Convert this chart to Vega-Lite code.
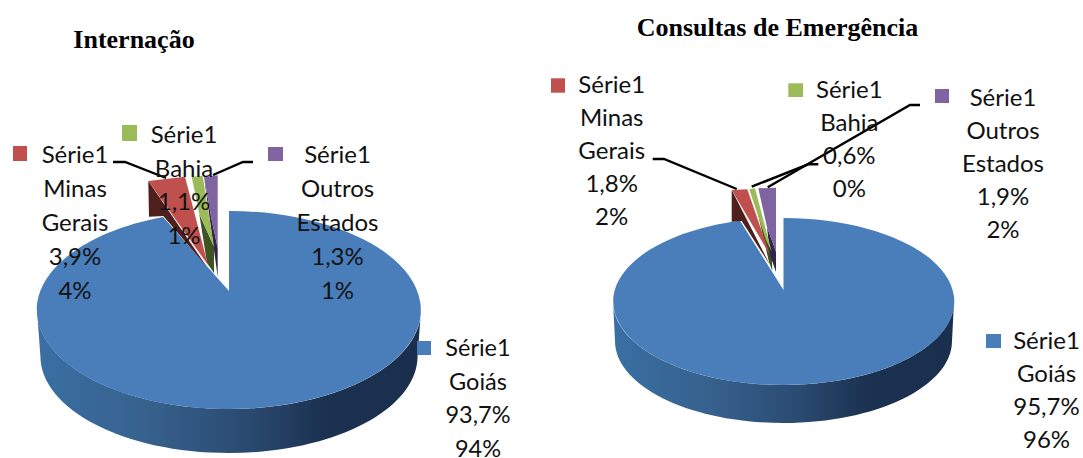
{
"$schema":"https://vega.github.io/schema/vega-lite/v6.json",
"width":1083,"height":458,"autosize":"none","padding":0,"background":"white",
"config":{"view":{"stroke":null}},
"data":{"values":[
{"id":"i_goias","grafico":"Internação","categoria":"Goiás","valor":93.7,"rotulo":"Série1\nGoiás\n93,7%\n94%"},
{"id":"i_minas","grafico":"Internação","categoria":"Minas Gerais","valor":3.9,"rotulo":"Série1\nMinas\nGerais\n3,9%\n4%"},
{"id":"i_bahia","grafico":"Internação","categoria":"Bahia","valor":1.1,"rotulo":"Série1\nBahia\n1,1%\n1%"},
{"id":"i_outros","grafico":"Internação","categoria":"Outros Estados","valor":1.3,"rotulo":"Série1\nOutros\nEstados\n1,3%\n1%"},
{"id":"c_goias","grafico":"Consultas de Emergência","categoria":"Goiás","valor":95.7,"rotulo":"Série1\nGoiás\n95,7%\n96%"},
{"id":"c_minas","grafico":"Consultas de Emergência","categoria":"Minas Gerais","valor":1.8,"rotulo":"Série1\nMinas\nGerais\n1,8%\n2%"},
{"id":"c_bahia","grafico":"Consultas de Emergência","categoria":"Bahia","valor":0.6,"rotulo":"Série1\nBahia\n0,6%\n0%"},
{"id":"c_outros","grafico":"Consultas de Emergência","categoria":"Outros Estados","valor":1.9,"rotulo":"Série1\nOutros\nEstados\n1,9%\n2%"}
]},
"encoding":{
"x":{"field":"grafico","type":"nominal","axis":null,"scale":{"type":"point","padding":0,"domain":["Internação","Consultas de Emergência"],"range":[229,783.5]}},
"y":{"field":"grafico","type":"nominal","axis":null,"scale":{"type":"point","padding":0,"domain":["Internação","Consultas de Emergência"],"range":[310,301.5]}}
},
"resolve":{"scale":{"shape":"independent","color":"independent"}},
"layer":[
{"transform":[{"filter":"datum.categoria==='Goiás'"}],
 "mark":{"type":"point","filled":true,"size":4,"opacity":1,"color":{"gradient":"linear","x1":0,"y1":0,"x2":1,"y2":0,"stops":[{"offset":0,"color":"#3a6fa3"},{"offset":0.3,"color":"#36608c"},{"offset":0.55,"color":"#2a4a70"},{"offset":0.75,"color":"#1b3150"},{"offset":1,"color":"#1a2f4d"}]}},
 "encoding":{"shape":{"field":"id","legend":null,"scale":{"domain":["i_goias","c_goias"],"range":[
  "M-192,0 A192,99 0 0 0 192,0 L188.6,46 A188.6,97 0 0 1 -188.6,46 Z",
  "M-170.5,0 A170.5,83.5 0 0 0 170.5,0 L168.5,39.5 A168.5,82 0 0 1 -168.5,39.5 Z"]}}}},
{"transform":[{"filter":"datum.categoria==='Goiás'"}],
 "mark":{"type":"point","filled":true,"size":4,"opacity":1,"color":"#4a7ebb"},
 "encoding":{"shape":{"field":"id","legend":null,"scale":{"domain":["i_goias","c_goias"],"range":[
  "M0,-19 L0,-99 A192,99 0 1 1 -66,-93 Z",
  "M0,-11.5 L0,-83.5 A170.5,83.5 0 1 1 -43.5,-80.7 Z"]}}}},
{"transform":[{"filter":"datum.categoria!=='Goiás'"}],
 "mark":{"type":"point","filled":true,"size":4,"opacity":1},
 "encoding":{
  "shape":{"field":"id","legend":null,"scale":{"domain":["i_minas","i_bahia","i_outros","c_minas","c_bahia","c_outros"],"range":[
   "M-80.7,-129 L-80,-93.3 L-65.7,-94 L-22,-43 Z",
   "M-29.7,-96 L-15,-63.3 L-15,-37 L-22,-47 Z",
   "M-25,-133.3 L-17.3,-90 L-11.3,-62 L-11.3,-33 Z",
   "M-51.8,-111.5 L-51.8,-79.8 L-41.8,-80.5 L-13.5,-36.5 Z",
   "M-26.5,-91.5 L-11.8,-49.8 L-11.2,-30.5 L-14.5,-39.5 Z",
   "M-16.5,-74.5 L-7.5,-49.8 L-7.5,-29.5 L-13.5,-46.5 Z"]}},
  "color":{"field":"categoria","type":"nominal","legend":null,"scale":{"domain":["Minas Gerais","Bahia","Outros Estados"],"range":["#4f1f1c","#3d5322","#33254a"]}}}},
{"transform":[{"filter":"datum.categoria!=='Goiás'"}],
 "mark":{"type":"point","filled":true,"size":4,"opacity":1},
 "encoding":{
  "shape":{"field":"id","legend":null,"scale":{"domain":["i_minas","i_bahia","i_outros","c_minas","c_bahia","c_outros"],"range":[
   "M-80.7,-129 L-44,-133.3 L-21,-45 Z",
   "M-37.3,-133.3 L-26.3,-134 L-15,-63.3 L-29.7,-96 Z",
   "M-25,-133.3 L-11.3,-134.7 L-11.3,-62 L-17.3,-90 Z",
   "M-51.8,-111.5 L-36.2,-112.2 L-13.5,-46.5 Z",
   "M-34.2,-112.2 L-28.5,-113.2 L-11.8,-49.8 L-17.5,-61.5 Z",
   "M-25.2,-113.2 L-7.5,-113.8 L-7.5,-49.8 L-16.5,-74.5 Z"]}},
  "color":{"field":"categoria","type":"nominal","legend":null,"scale":{"domain":["Minas Gerais","Bahia","Outros Estados"],"range":["#c0504d","#9bbb59","#8064a2"]}}}},
{"transform":[{"filter":{"field":"id","oneOf":["i_minas","i_outros","c_minas","c_bahia","c_outros"]}}],
 "mark":{"type":"point","filled":false,"size":4,"opacity":1,"stroke":"#000","strokeWidth":2.4},
 "encoding":{"shape":{"field":"id","legend":null,"scale":{"domain":["i_minas","i_outros","c_minas","c_bahia","c_outros"],"range":[
  "M-116,-148 L-104,-148 L-63,-132",
  "M24,-148 L14,-148 L-16,-135",
  "M-130.8,-142.5 L-119.5,-142.5 L-46.8,-112.5",
  "M34.8,-137.2 L24.8,-137.2 L-31.8,-114.8",
  "M136.5,-196.5 L126.5,-196.5 L-15.8,-114.2"]}}}},
{"mark":{"type":"point","filled":true,"size":4,"opacity":1},
 "encoding":{
  "shape":{"field":"id","legend":null,"scale":{"domain":["i_goias","i_minas","i_bahia","i_outros","c_goias","c_minas","c_bahia","c_outros"],"range":[
   "M188,31 H202 V45 H188 Z",
   "M-216,-164 H-202 V-149 H-216 Z",
   "M-107,-185 H-92 V-169 H-107 Z",
   "M39,-163 H54 V-149 H39 Z",
   "M202.5,32.5 H217.5 V46.5 H202.5 Z",
   "M-232.5,-223.2 H-218.5 V-208.8 H-232.5 Z",
   "M4.8,-218.2 H19.5 V-204.5 H4.8 Z",
   "M151.5,-212.5 H165.5 V-198.5 H151.5 Z"]}},
  "color":{"field":"categoria","type":"nominal","legend":null,"scale":{"domain":["Goiás","Minas Gerais","Bahia","Outros Estados"],"range":["#4a7ebb","#c0504d","#9bbb59","#8064a2"]}}}},
{"transform":[{"filter":"datum.id==='i_goias'"}],"mark":{"type":"text","font":"Lato","fontSize":23.5,"lineBreak":"\n","lineHeight":33.5,"baseline":"top","align":"center","color":"#111","dx":249,"dy":27},"encoding":{"text":{"field":"rotulo"}}},
{"transform":[{"filter":"datum.id==='i_minas'"}],"mark":{"type":"text","font":"Lato","fontSize":24,"lineBreak":"\n","lineHeight":34,"baseline":"top","align":"center","color":"#111","dx":-154,"dy":-166},"encoding":{"text":{"field":"rotulo"}}},
{"transform":[{"filter":"datum.id==='i_bahia'"}],"mark":{"type":"text","font":"Lato","fontSize":24,"lineBreak":"\n","lineHeight":33.5,"baseline":"top","align":"center","color":"#111","dx":-45,"dy":-186},"encoding":{"text":{"field":"rotulo"}}},
{"transform":[{"filter":"datum.id==='i_outros'"}],"mark":{"type":"text","font":"Lato","fontSize":24,"lineBreak":"\n","lineHeight":34,"baseline":"top","align":"center","color":"#111","dx":108.5,"dy":-166},"encoding":{"text":{"field":"rotulo"}}},
{"transform":[{"filter":"datum.id==='c_goias'"}],"mark":{"type":"text","font":"Lato","fontSize":24,"lineBreak":"\n","lineHeight":33,"baseline":"top","align":"center","color":"#111","dx":263,"dy":28.5},"encoding":{"text":{"field":"rotulo"}}},
{"transform":[{"filter":"datum.id==='c_minas'"}],"mark":{"type":"text","font":"Lato","fontSize":24,"lineBreak":"\n","lineHeight":33,"baseline":"top","align":"center","color":"#111","dx":-171.8,"dy":-227.5},"encoding":{"text":{"field":"rotulo"}}},
{"transform":[{"filter":"datum.id==='c_bahia'"}],"mark":{"type":"text","font":"Lato","fontSize":24,"lineBreak":"\n","lineHeight":33,"baseline":"top","align":"center","color":"#111","dx":65.8,"dy":-222.5},"encoding":{"text":{"field":"rotulo"}}},
{"transform":[{"filter":"datum.id==='c_outros'"}],"mark":{"type":"text","font":"Lato","fontSize":24,"lineBreak":"\n","lineHeight":33,"baseline":"top","align":"center","color":"#111","dx":219.5,"dy":-214.5},"encoding":{"text":{"field":"rotulo"}}},
{"transform":[{"filter":"datum.id==='i_goias'"}],"mark":{"type":"text","font":"Liberation Serif","fontWeight":"bold","fontSize":26,"baseline":"middle","align":"center","color":"#000","dx":-95,"dy":-270},"encoding":{"text":{"field":"grafico"}}},
{"transform":[{"filter":"datum.id==='c_goias'"}],"mark":{"type":"text","font":"Liberation Serif","fontWeight":"bold","fontSize":26,"baseline":"middle","align":"center","color":"#000","dx":-6,"dy":-273.5},"encoding":{"text":{"field":"grafico"}}}
]
}
